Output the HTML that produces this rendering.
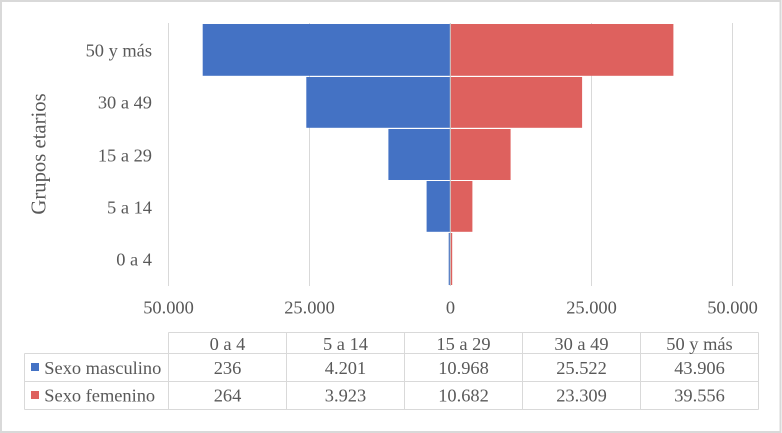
<!DOCTYPE html>
<html><head><meta charset="utf-8"><style>
html,body{margin:0;padding:0;background:#fff;}
svg{display:block;}
text{font-family:"Liberation Serif","Times New Roman",serif;fill:#595959;font-size:18.4px;}
</style></head><body>
<svg width="782" height="433" viewBox="0 0 782 433" xmlns="http://www.w3.org/2000/svg">
<rect x="0" y="0" width="782" height="433" fill="#fff"/>
<rect x="1" y="1" width="779.5" height="431" fill="none" stroke="#d9d9d9" stroke-width="2"/>
<!-- gridlines -->
<g stroke="#d9d9d9" stroke-width="1">
<line x1="168.5" y1="23" x2="168.5" y2="286"/>
<line x1="309.5" y1="23" x2="309.5" y2="286"/>
<line x1="591.5" y1="23" x2="591.5" y2="286"/>
<line x1="732.5" y1="23" x2="732.5" y2="286"/>
</g>
<!-- bars -->
<g fill="#4472C4">
<rect x="202.7" y="24" width="247.3" height="51.8"/>
<rect x="306.3" y="77" width="143.7" height="50.8"/>
<rect x="388.4" y="129" width="61.6" height="51"/>
<rect x="426.6" y="181" width="23.4" height="50.8"/>
<rect x="448.7" y="233" width="1.3" height="52"/>
</g>
<g fill="#DE615E">
<rect x="450.6" y="24" width="222.8" height="51.8"/>
<rect x="450.6" y="77" width="131.5" height="50.8"/>
<rect x="450.6" y="129" width="60" height="51"/>
<rect x="450.6" y="181" width="21.8" height="50.8"/>
<rect x="450.6" y="233" width="1.6" height="52"/>
</g>
<line x1="450.3" y1="23" x2="450.3" y2="286" stroke="#c8c8c8" stroke-width="1"/>
<!-- y labels -->
<g text-anchor="end">
<text x="152" y="56.7">50 y más</text>
<text x="152" y="108.3">30 a 49</text>
<text x="152" y="161.5">15 a 29</text>
<text x="152" y="213.3">5 a 14</text>
<text x="152" y="265.7">0 a 4</text>
</g>
<text transform="translate(45.5,154) rotate(-90)" text-anchor="middle" style="font-size:20.7px">Grupos etarios</text>
<!-- x labels -->
<g text-anchor="middle">
<text x="168.5" y="313.3">50.000</text>
<text x="309.5" y="313.3">25.000</text>
<text x="450.5" y="313.3">0</text>
<text x="591.5" y="313.3">25.000</text>
<text x="732.5" y="313.3">50.000</text>
</g>
<!-- table -->
<g stroke="#d9d9d9" stroke-width="1" fill="none">
<line x1="168.5" y1="332.5" x2="758.5" y2="332.5"/>
<line x1="24.5" y1="353.5" x2="758.5" y2="353.5"/>
<line x1="24.5" y1="381.5" x2="758.5" y2="381.5"/>
<line x1="24.5" y1="409.5" x2="758.5" y2="409.5"/>
<line x1="24.5" y1="353.5" x2="24.5" y2="409.5"/>
<line x1="168.5" y1="332.5" x2="168.5" y2="409.5"/>
<line x1="286.5" y1="332.5" x2="286.5" y2="409.5"/>
<line x1="404.5" y1="332.5" x2="404.5" y2="409.5"/>
<line x1="522.5" y1="332.5" x2="522.5" y2="409.5"/>
<line x1="640.5" y1="332.5" x2="640.5" y2="409.5"/>
<line x1="758.5" y1="332.5" x2="758.5" y2="409.5"/>
</g>
<rect x="31" y="363" width="8" height="8" fill="#4472C4"/>
<rect x="31" y="391" width="8" height="8" fill="#DE615E"/>
<text x="44.3" y="374">Sexo masculino</text>
<text x="44.3" y="401.5">Sexo femenino</text>
<g text-anchor="middle">
<text x="227.5" y="350">0 a 4</text>
<text x="345.5" y="350">5 a 14</text>
<text x="463.5" y="350">15 a 29</text>
<text x="581.5" y="350">30 a 49</text>
<text x="699.5" y="350">50 y más</text>
<text x="227.5" y="374">236</text>
<text x="345.5" y="374">4.201</text>
<text x="463.5" y="374">10.968</text>
<text x="581.5" y="374">25.522</text>
<text x="699.5" y="374">43.906</text>
<text x="227.5" y="401.5">264</text>
<text x="345.5" y="401.5">3.923</text>
<text x="463.5" y="401.5">10.682</text>
<text x="581.5" y="401.5">23.309</text>
<text x="699.5" y="401.5">39.556</text>
</g>
</svg>
</body></html>
